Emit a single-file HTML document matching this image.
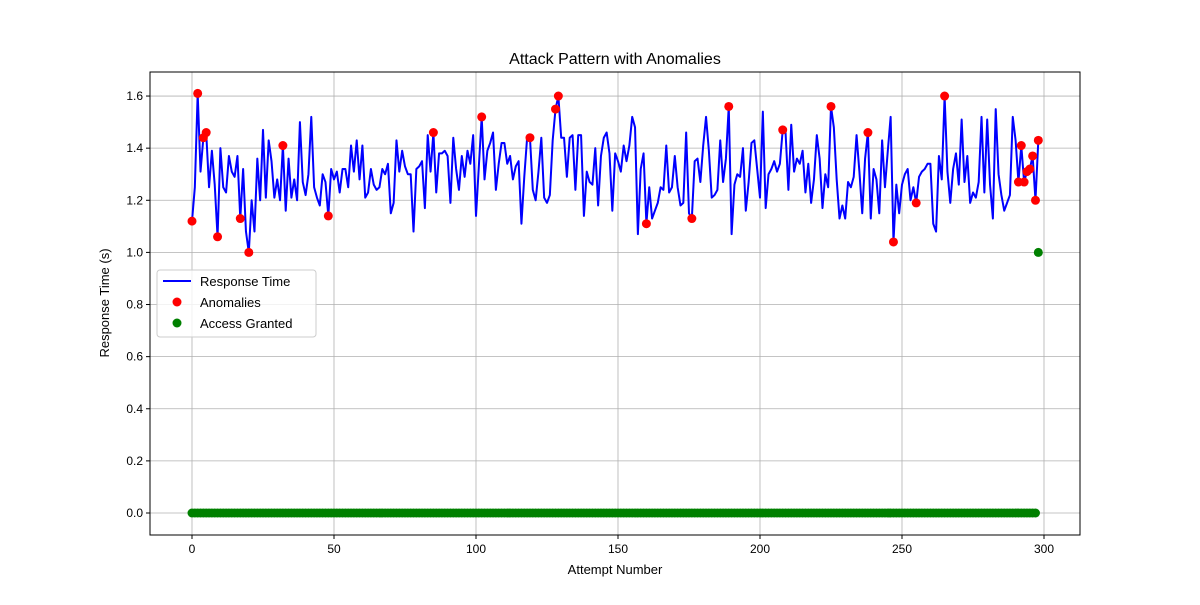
<!DOCTYPE html>
<html><head><meta charset="utf-8"><style>
body{margin:0;background:#fff}
svg{font-family:"Liberation Sans","DejaVu Sans",sans-serif}
</style></head><body>
<svg id="chart" width="1200" height="600" xmlns="http://www.w3.org/2000/svg">
<rect width="1200" height="600" fill="#fff"/>
<text x="615" y="64" text-anchor="middle" font-size="16">Attack Pattern with Anomalies</text>
<text x="615" y="574" text-anchor="middle" font-size="13">Attempt Number</text>
<text transform="translate(109,303) rotate(-90)" text-anchor="middle" font-size="13">Response Time (s)</text>
<g id="grid"></g><g id="ticks"></g><g id="marks"></g>
<rect x="150" y="72" width="930" height="463" fill="none" stroke="#000" stroke-width="1"/>
<g>
<rect x="157" y="270" width="159" height="67" rx="3" fill="#fff" fill-opacity="0.8" stroke="#ccc"/>
<line x1="163" y1="281" x2="191" y2="281" stroke="#0000ff" stroke-width="2"/>
<text x="200" y="286" font-size="13">Response Time</text>
<circle cx="177" cy="302" r="4.5" fill="#ff0000"/>
<text x="200" y="307" font-size="13">Anomalies</text>
<circle cx="177" cy="323" r="4.5" fill="#008000"/>
<text x="200" y="328" font-size="13">Access Granted</text>
</g>
</svg>
<script>
const responseTimes=[1.12,1.25,1.61,1.31,1.44,1.46,1.25,1.39,1.26,1.06,1.40,1.25,1.23,1.37,1.31,1.29,1.37,1.13,1.32,1.08,
1.00,1.20,1.08,1.36,1.20,1.47,1.21,1.43,1.35,1.21,1.28,1.20,1.41,1.16,1.36,1.21,1.28,1.20,1.50,1.27,
1.22,1.30,1.52,1.25,1.21,1.18,1.30,1.27,1.14,1.32,1.28,1.31,1.23,1.32,1.32,1.25,1.41,1.31,1.43,1.28,
1.41,1.21,1.23,1.32,1.26,1.24,1.25,1.32,1.30,1.34,1.15,1.19,1.43,1.31,1.39,1.33,1.30,1.30,1.08,1.32,
1.33,1.35,1.17,1.45,1.31,1.46,1.23,1.38,1.38,1.39,1.37,1.19,1.44,1.32,1.24,1.37,1.29,1.39,1.34,1.45,
1.14,1.33,1.52,1.28,1.39,1.42,1.46,1.24,1.34,1.42,1.42,1.34,1.37,1.28,1.33,1.35,1.11,1.29,1.44,1.44,
1.24,1.20,1.31,1.44,1.21,1.19,1.22,1.43,1.55,1.60,1.44,1.44,1.29,1.44,1.45,1.24,1.45,1.45,1.14,1.31,
1.27,1.26,1.40,1.18,1.37,1.44,1.46,1.38,1.16,1.38,1.35,1.31,1.41,1.35,1.41,1.52,1.48,1.07,1.32,1.38,
1.11,1.25,1.13,1.16,1.19,1.25,1.24,1.41,1.23,1.25,1.37,1.25,1.18,1.19,1.46,1.15,1.13,1.35,1.36,1.27,
1.41,1.52,1.39,1.21,1.22,1.24,1.43,1.27,1.36,1.56,1.07,1.26,1.30,1.29,1.40,1.16,1.27,1.42,1.43,1.32,
1.21,1.54,1.17,1.30,1.32,1.35,1.31,1.34,1.47,1.46,1.24,1.49,1.31,1.36,1.34,1.39,1.23,1.34,1.19,1.28,
1.45,1.36,1.17,1.30,1.25,1.56,1.48,1.28,1.13,1.18,1.13,1.27,1.25,1.29,1.45,1.31,1.15,1.36,1.46,1.13,
1.32,1.28,1.15,1.43,1.25,1.39,1.52,1.04,1.26,1.15,1.26,1.30,1.32,1.20,1.25,1.19,1.29,1.31,1.32,1.34,
1.34,1.11,1.08,1.37,1.28,1.60,1.31,1.19,1.32,1.38,1.26,1.51,1.27,1.37,1.19,1.23,1.21,1.27,1.52,1.23,
1.51,1.26,1.13,1.55,1.30,1.22,1.16,1.19,1.22,1.52,1.43,1.27,1.41,1.27,1.31,1.32,1.37,1.20,1.43];
const anomalyIdx=[0,2,4,5,9,17,20,32,48,85,102,119,128,129,160,176,189,208,225,238,247,255,265,291,292,293,294,295,296,297,298];
const accessGranted=responseTimes.map((_,i)=>i===298?1:0);
const xTicks=[0,50,100,150,200,250,300];
const yTicks=[0.0,0.2,0.4,0.6,0.8,1.0,1.2,1.4,1.6];

const X=v=>192+(v)*(852/300);
const Y=v=>513-v*260.6;
const NS='http://www.w3.org/2000/svg';
function mk(tag,attrs,parent){const e=document.createElementNS(NS,tag);for(const k in attrs)e.setAttribute(k,attrs[k]);document.getElementById(parent).appendChild(e);return e;}

xTicks.forEach(t=>{
  const g=mk('line',{x1:X(t),x2:X(t),y1:72,y2:535,stroke:'#b0b0b0','stroke-width':0.8},'grid');
  
  
  mk('line',{x1:X(t),x2:X(t),y1:535,y2:539,stroke:'#000'},'ticks');
  const tx=mk('text',{x:X(t),y:553,'text-anchor':'middle','font-size':12},'ticks');
  tx.textContent=t;
  
  
});
yTicks.forEach(t=>{
  const g=mk('line',{x1:150,x2:1080,y1:Y(t),y2:Y(t),stroke:'#b0b0b0','stroke-width':0.8},'grid');
  
  
  mk('line',{x1:146,x2:150,y1:Y(t),y2:Y(t),stroke:'#000'},'ticks');
  const tx=mk('text',{x:143,y:Y(t)+4,'text-anchor':'end','font-size':12},'ticks');
  tx.textContent=t.toFixed(1);
  
  
});
const pl=mk('polyline',{points:responseTimes.map((v,i)=>X(i)+','+Y(v)).join(' '),fill:'none',stroke:'#0000ff','stroke-width':2,'stroke-linejoin':'round'},'marks');


anomalyIdx.forEach(i=>{
  const c=mk('circle',{cx:X(i),cy:Y(responseTimes[i]),r:4.5,fill:'#ff0000'},'marks');
  
  
});
accessGranted.forEach((v,i)=>{
  const c=mk('circle',{cx:X(i),cy:Y(v),r:4.5,fill:'#008000'},'marks');
  
  
});
</script>
</body></html>
